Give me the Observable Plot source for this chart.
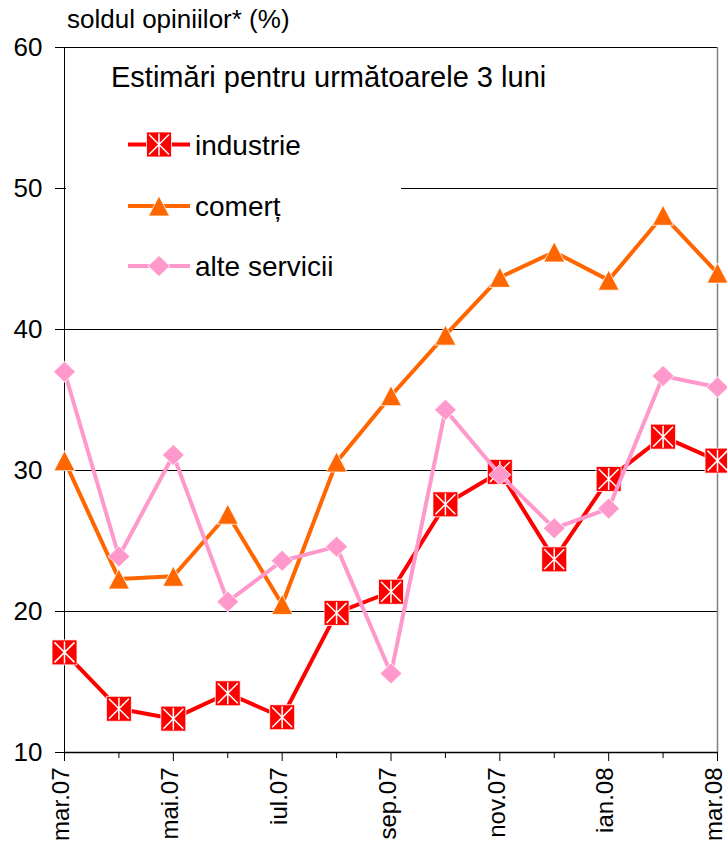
<!DOCTYPE html>
<html><head><meta charset="utf-8">
<script src="https://cdn.jsdelivr.net/npm/d3@7"></script>
<script src="https://cdn.jsdelivr.net/npm/@observablehq/plot@0.6"></script>
<style>
body{margin:0;background:#fff;}
#chart svg{display:block;}
</style>
</head><body><div id="chart"></div>
<script>
const months = ["mar.07","apr.07","mai.07","iun.07","iul.07","aug.07","sep.07","oct.07","nov.07","dec.07","ian.08","feb.08","mar.08"];
const tickLabels = ["mar.07","mai.07","iul.07","sep.07","nov.07","ian.08","mar.08"];
const industrie = [17.1,13.1,12.4,14.2,12.5,19.9,21.4,27.6,29.9,23.7,29.4,32.4,30.7];
const comert = [30.7,22.3,22.5,26.9,20.5,30.6,35.3,39.6,43.7,45.5,43.5,48.1,44.0];
const alteServicii = [37.0,23.9,31.1,20.7,23.6,24.6,15.6,34.3,29.7,25.9,27.3,36.7,35.9];
const yTicks = [10,20,30,40,50,60];
const seriesNames = ["industrie","comerț","alte servicii"];
const legendTitle = "Estimări pentru următoarele 3 luni";
const yTitle = "soldul opiniilor* (%)";

const FONT = "'Liberation Sans', Arial, Helvetica, sans-serif";

// custom marker shapes
const squareSym = {draw(ctx){ const h = 12.5; ctx.moveTo(-h,-h); ctx.lineTo(h,-h); ctx.lineTo(h,h); ctx.lineTo(-h,h); ctx.closePath(); }};
const starSym = {draw(ctx){ const d = 10, v = 11;
  ctx.moveTo(0,-v); ctx.lineTo(0,v);
  ctx.moveTo(-d,-d); ctx.lineTo(d,d);
  ctx.moveTo(-d,d); ctx.lineTo(d,-d); }};
const triSym = {draw(ctx){ const w = 10.5, h = 10; ctx.moveTo(0,-h); ctx.lineTo(w,h); ctx.lineTo(-w,h); ctx.closePath(); }};
const diaSym = {draw(ctx){ const w = 11, h = 10.5; ctx.moveTo(0,-h); ctx.lineTo(w,0); ctx.lineTo(0,h); ctx.lineTo(-w,0); ctx.closePath(); }};

const seriesValues = [industrie, comert, alteServicii];
const colors = ["#FF0000", "#FF6600", "#FF99CC"];
const symbols = [squareSym, triSym, diaSym];

const rows = [];
seriesNames.forEach((s, k) => seriesValues[k].forEach((v, i) => rows.push({series: s, month: months[i], value: v})));

const seriesMarks = seriesNames.flatMap((s, k) => {
  const data = rows.filter(d => d.series === s);
  const m = [
    Plot.line(data, {x: "month", y: "value", stroke: colors[k], strokeWidth: 4, strokeLinejoin: "miter"}),
    Plot.dot(data, {x: "month", y: "value", symbol: symbols[k], fill: colors[k], stroke: "#fff", strokeWidth: 0.8, r: 10})
  ];
  if (k === 0) m.push(Plot.dot(data, {x: "month", y: "value", symbol: starSym, fill: "none", stroke: "#fff", strokeWidth: 1.5, r: 10}));
  return m;
});

const minorMonths = months.filter(m => !tickLabels.includes(m));

const plot = Plot.plot({
  width: 727, height: 856,
  marginLeft: 64, marginRight: 10, marginTop: 47, marginBottom: 104,
  style: {fontFamily: FONT, color: "#000", background: "#fff", overflow: "visible"},
  x: {type: "point", domain: months, padding: 0, round: false, label: null},
  y: {domain: [10, 60], label: null},
  marks: [
    Plot.gridY(yTicks.filter(v => v > 10), {stroke: "#000", strokeOpacity: 1, strokeWidth: 1}),
    Plot.ruleX([months[months.length - 1]], {stroke: "#808080", strokeWidth: 1.5, y1: 10, y2: 60}),
    Plot.axisY(yTicks, {tickSize: 9, tickPadding: 13, fontSize: 26, label: null, stroke: "#000"}),
    Plot.axisX(tickLabels, {tickSize: 9, tickFormat: () => "", label: null}),
    Plot.axisX(tickLabels, {tickSize: 0, tickPadding: 15, tickRotate: -90, fontSize: 24, dx: -3, label: null}),
    Plot.axisX(minorMonths, {tickSize: 6, tickFormat: () => "", label: null}),
    Plot.ruleX([months[0]], {stroke: "#000", strokeWidth: 1, y1: 10, y2: 60}),
    Plot.ruleY([10], {stroke: "#000", strokeWidth: 1.5}),
    ...seriesMarks
  ]
});

document.getElementById("chart").appendChild(plot);

// title and legend overlay
const svg = d3.select(plot);
svg.append("text").attr("x", 67).attr("y", 28).attr("text-anchor", "start").attr("font-family", FONT).attr("font-size", 26).attr("fill", "#000").text(yTitle);

const lg = svg.append("g").attr("text-anchor", "start");
lg.append("rect").attr("x", 66).attr("y", 52).attr("width", 335).attr("height", 245).attr("fill", "#fff");
lg.append("text").attr("x", 111).attr("y", 87).attr("font-family", FONT).attr("font-size", 29).attr("fill", "#000").text(legendTitle);
const rowY = [144.5, 206, 266];
const textY = [155, 216, 276];
seriesNames.forEach((s, k) => {
  lg.append("line").attr("x1", 128).attr("x2", 190).attr("y1", rowY[k]).attr("y2", rowY[k]).attr("stroke", colors[k]).attr("stroke-width", 4);
  lg.append("path").attr("transform", `translate(159,${rowY[k]})`).attr("d", d3.symbol().type(symbols[k])()).attr("fill", colors[k]).attr("stroke", "#fff").attr("stroke-width", 0.8);
  if (k === 0) lg.append("path").attr("transform", `translate(159,${rowY[k]})`).attr("d", d3.symbol().type(starSym)()).attr("fill", "none").attr("stroke", "#fff").attr("stroke-width", 1.5);
  lg.append("text").attr("x", 195).attr("y", textY[k]).attr("font-family", FONT).attr("font-size", 28).attr("fill", "#000").text(s);
});
</script>
</body></html>
